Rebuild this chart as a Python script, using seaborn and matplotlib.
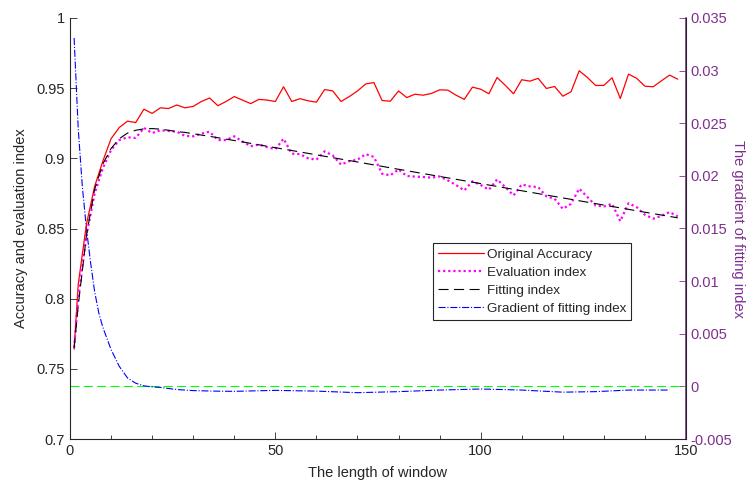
import numpy as np
import matplotlib
matplotlib.use("Agg")
import matplotlib.pyplot as plt
import seaborn as sns
from matplotlib.ticker import FormatStrFormatter, MultipleLocator

# window lengths for accuracy / evaluation index
x_win = [1] + list(range(2, 149, 2))

acc = [0.764, 0.81, 0.853, 0.880, 0.898, 0.914, 0.922, 0.9265, 0.9255, 0.935,
       0.932, 0.936, 0.9355, 0.938, 0.936, 0.937, 0.9405, 0.943, 0.9375, 0.9405,
       0.944, 0.9415, 0.939, 0.942, 0.9415, 0.9405, 0.951, 0.9405, 0.9425, 0.941,
       0.940, 0.949, 0.948, 0.9405, 0.944, 0.948, 0.953, 0.954, 0.9412, 0.9407,
       0.948, 0.9433, 0.9457, 0.945, 0.9462, 0.9488, 0.9486, 0.945, 0.942, 0.9507,
       0.9493, 0.946, 0.9576, 0.952, 0.946, 0.956, 0.955, 0.957, 0.9498, 0.9512,
       0.9443, 0.9474, 0.9624, 0.9576, 0.9519, 0.952, 0.9574, 0.9426, 0.960, 0.957,
       0.9514, 0.951, 0.9552, 0.9593, 0.9564]

evl = [0.765, 0.80, 0.845, 0.875, 0.893, 0.906, 0.913, 0.915, 0.9145, 0.9217,
       0.918, 0.920, 0.9195, 0.919, 0.916, 0.9157, 0.9176, 0.919, 0.913, 0.913,
       0.9157, 0.912, 0.9086, 0.9098, 0.908, 0.9065, 0.914, 0.9033, 0.903, 0.900,
       0.899, 0.905, 0.902, 0.8955, 0.898, 0.899, 0.903, 0.901, 0.889, 0.8879,
       0.8921, 0.8874, 0.887, 0.8867, 0.8862, 0.8871, 0.8843, 0.881, 0.8771, 0.8836,
       0.881, 0.8776, 0.885, 0.8795, 0.8736, 0.8814, 0.880, 0.8795, 0.8729, 0.8712,
       0.864, 0.8676, 0.8784, 0.8724, 0.8664, 0.8657, 0.8676, 0.8552, 0.868, 0.8652,
       0.8598, 0.857, 0.859, 0.8617, 0.8586]

x_fit = [1, 2, 4, 6, 8, 10, 12, 14, 16, 18, 20, 22, 24, 26, 28, 30, 35, 40,
         50, 60, 70, 80, 90, 100, 110, 120, 130, 140, 148]
fit = [0.765, 0.795, 0.845, 0.878, 0.896, 0.907, 0.914, 0.918, 0.920, 0.921,
       0.9212, 0.9208, 0.920, 0.919, 0.9185, 0.9175, 0.9152, 0.9127, 0.9076,
       0.9025, 0.8974, 0.8922, 0.8871, 0.8820, 0.8769, 0.8718, 0.8667, 0.8616,
       0.8576]

x_grad = [1, 2, 3, 4, 5, 6, 7, 8, 10, 12, 14, 16, 18, 20, 22, 26, 30, 35, 40,
          50, 60, 70, 80, 90, 100, 110, 120, 128, 136, 146]
grad = [0.0331, 0.0245, 0.0190, 0.0150, 0.0118, 0.0090, 0.0070, 0.0056, 0.0035,
        0.0019, 0.0008, 0.0003, 0.00005, -0.00005, -0.0001, -0.0003, -0.0004,
        -0.00045, -0.00047, -0.00038, -0.00045, -0.0006, -0.0005, -0.00035,
        -0.00025, -0.00035, -0.00055, -0.0005, -0.00035, -0.00035]

sns.set_style("ticks")
plt.rcParams['font.family'] = ['Liberation Sans', 'DejaVu Sans']
plt.rcParams['xtick.direction'] = 'in'
plt.rcParams['ytick.direction'] = 'in'

axcol = '#262626'
purple = '#7E2F8E'

fig = plt.figure(figsize=(7.51, 4.86), dpi=100)
ax = fig.add_axes([70/751, 1-439/486, 616/751, 421/486])
ax2 = ax.twinx()

sns.lineplot(x=x_win, y=acc, ax=ax, color='#FF0000', lw=0.9, label='Original Accuracy')
sns.lineplot(x=x_win, y=evl, ax=ax, color='#FF00FF', lw=1.6, linestyle=(0, (1, 1.3)),
             label='Evaluation index')
sns.lineplot(x=x_fit, y=fit, ax=ax, color='black', lw=0.8, linestyle=(0, (9, 5)),
             label='Fitting index')
ax2.axhline(0, color='#00FF00', lw=0.8, linestyle=(0, (8, 4)))
sns.lineplot(x=x_grad, y=grad, ax=ax2, color='#0000FF', lw=0.8, linestyle='-.',
             label='Gradient of fitting index')

ax.set_xlim(0, 150)
ax.set_ylim(0.7, 1.0)
ax2.set_ylim(-0.005, 0.035)
ax.set_xticks([0, 50, 100, 150])
ax.xaxis.set_minor_locator(MultipleLocator(10))
ax.set_yticks([0.7, 0.75, 0.8, 0.85, 0.9, 0.95, 1.0])
ax.yaxis.set_major_formatter(FormatStrFormatter('%g'))
ax2.set_yticks([-0.005, 0, 0.005, 0.01, 0.015, 0.02, 0.025, 0.03, 0.035])
ax2.yaxis.set_major_formatter(FormatStrFormatter('%g'))

for a in (ax, ax2):
    a.spines['top'].set_visible(False)
ax.spines['left'].set_color(axcol)
ax.spines['bottom'].set_color(axcol)
ax2.spines['left'].set_visible(False)
ax2.spines['bottom'].set_visible(False)
ax2.spines['right'].set_color(purple)
ax2.spines['right'].set_linewidth(1.2)

ax.tick_params(axis='both', which='major', labelsize=10.5, colors=axcol, length=5, width=0.6)
ax.tick_params(axis='x', which='minor', length=3, width=0.6, colors=axcol)
ax2.tick_params(axis='y', labelsize=10.5, colors=purple, length=5, width=0.6)

ax.set_xlabel('The length of window', fontsize=10.5, color=axcol, labelpad=6)
ax.set_ylabel('Accuracy and evaluation index', fontsize=10.5, color=axcol, labelpad=6)
ax2.set_ylabel('The gradient of fitting index', fontsize=10.5, color=purple, rotation=270,
               labelpad=9)

h1, l1 = ax.get_legend_handles_labels()
h2, l2 = ax2.get_legend_handles_labels()
if ax2.get_legend():
    ax2.get_legend().remove()
leg = ax.legend(h1 + h2, l1 + l2, loc='upper left', bbox_to_anchor=(0.589, 0.466),
                fontsize=9.7, frameon=True, fancybox=False, edgecolor=axcol,
                framealpha=1, borderpad=0.4, labelspacing=0.42, handlelength=3.4,
                handletextpad=0.2, borderaxespad=0)
leg.get_frame().set_linewidth(0.8)
ax.set_zorder(ax2.get_zorder() + 1)
ax.patch.set_visible(False)

fig.savefig('out.png', dpi=100)
